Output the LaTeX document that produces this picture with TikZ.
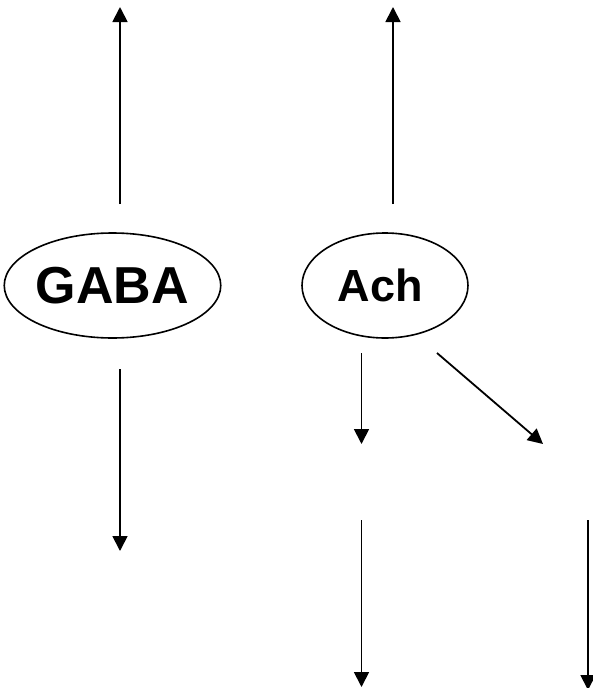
\documentclass[tikz,border=0pt]{standalone}
\usepackage{fontspec}
\setmainfont{Liberation Sans}
\usetikzlibrary{shapes.geometric,arrows.meta}
\tikzset{
  blob/.style={ellipse, draw, line width=1.6pt, inner sep=0pt, font=\bfseries},
  arr/.style={line width=1.8pt, -{Triangle[width=15pt,length=15pt]}}
}
\begin{document}
\begin{tikzpicture}[x=1pt,y=-1pt]
\useasboundingbox (0,0) rectangle (592,688);
\node[blob, minimum width=199pt, minimum height=105pt, font=\bfseries\fontsize{52}{52}\selectfont] (gaba) at (112.5,285.5) {GABA};
\node[blob, minimum width=166pt, minimum height=105pt, font=\bfseries\fontsize{45}{45}\selectfont] (ach) at (385,285.5) {\hspace*{-9pt}Ach};
\coordinate (g1s) at (120,204); \coordinate (g1e) at (120,7);
\coordinate (a1s) at (393,204); \coordinate (a1e) at (393,7);
\coordinate (g2s) at (120,369); \coordinate (g2e) at (120,551);
\coordinate (a2s) at (361.5,353); \coordinate (a2e) at (361.5,444);
\coordinate (a3s) at (437,353); \coordinate (a3e) at (543,444);
\coordinate (a4s) at (361.5,520); \coordinate (a4e) at (361.5,687);
\coordinate (a5s) at (588,520); \coordinate (a5e) at (588,690);
\draw[arr] (g1s) -- (g1e);
\draw[arr] (a1s) -- (a1e);
\draw[arr] (g2s) -- (g2e);
\draw[arr] (a2s) -- (a2e);
\draw[arr] (a3s) -- (a3e);
\draw[arr] (a4s) -- (a4e);
\draw[arr] (a5s) -- (a5e);
\end{tikzpicture}
\end{document}
